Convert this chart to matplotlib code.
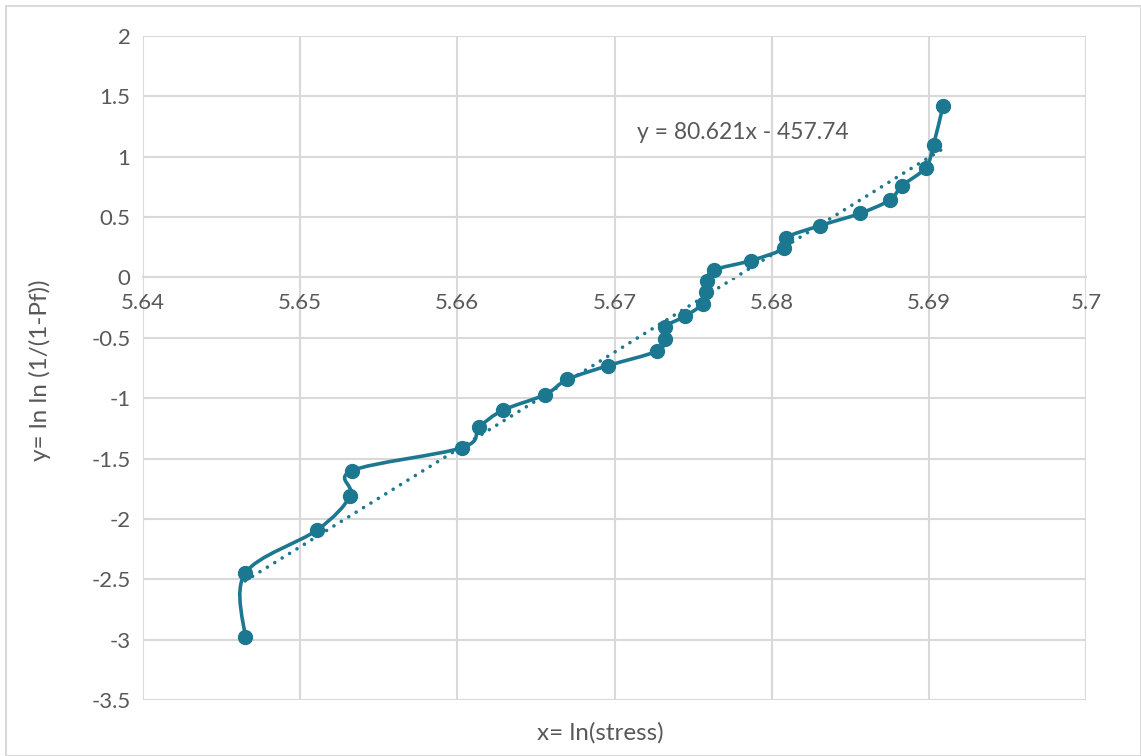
import matplotlib
matplotlib.use('Agg')
import matplotlib.pyplot as plt
import numpy as np
from matplotlib.path import Path
from matplotlib.patches import PathPatch, Rectangle

plt.rcParams['font.family'] = ['Lato', 'DejaVu Sans']

# 数据：x = ln(stress), y = ln ln (1/(1-Pf))
x_vals = [5.6465, 5.6465, 5.6511, 5.6532, 5.6533, 5.6603, 5.6614, 5.6629, 5.6656,
          5.6670, 5.6696, 5.6727, 5.6732, 5.6732, 5.6745, 5.6756, 5.6758, 5.6759,
          5.6763, 5.6787, 5.6808, 5.6809, 5.6831, 5.6856, 5.6875, 5.6883, 5.6898,
          5.6903, 5.6909]
y_vals = [-2.98, -2.45, -2.09, -1.81, -1.60, -1.41, -1.24, -1.10, -0.97,
          -0.845, -0.73, -0.61, -0.51, -0.41, -0.32, -0.22, -0.12, -0.03,
          0.06, 0.14, 0.24, 0.33, 0.43, 0.53, 0.64, 0.76, 0.91,
          1.10, 1.42]
slope = 80.621
intercept = -457.74
x_ticks = [5.64, 5.65, 5.66, 5.67, 5.68, 5.69, 5.7]
y_ticks = [2, 1.5, 1, 0.5, 0, -0.5, -1, -1.5, -2, -2.5, -3, -3.5]

color = '#1c7890'
grid_c = '#d9d9d9'
text_c = '#595959'

fig = plt.figure(figsize=(11.41, 7.56), dpi=100)
ax = fig.add_axes([143 / 1141, 1 - 700 / 756, (1086 - 143) / 1141, (700 - 36) / 756])

# 平滑折线（Excel 风格，Catmull-Rom -> Bezier）
pts = np.column_stack([x_vals, y_vals])
ext = np.vstack([pts[0], pts, pts[-1]])
verts = [pts[0]]
codes = [Path.MOVETO]
for i in range(len(pts) - 1):
    p0, p1, p2, p3 = ext[i], ext[i + 1], ext[i + 2], ext[i + 3]
    c1 = p1 + (p2 - p0) / 6
    c2 = p2 - (p3 - p1) / 6
    verts += [c1, c2, p2]
    codes += [Path.CURVE4] * 3
ax.add_patch(PathPatch(Path(verts, codes), fill=False, edgecolor=color, lw=2.6,
                       capstyle='round', joinstyle='round', zorder=3))
ax.plot(x_vals, y_vals, 'o', color=color, markersize=10, zorder=4)

# 趋势线
tx = np.array([min(x_vals), max(x_vals)])
ax.plot(tx, slope * tx + intercept, color=color, lw=2.6, linestyle=(0, (0.01, 2.4)),
        dash_capstyle='round', zorder=2)
ax.text(5.6714, 1.2, 'y = %.3fx - %.2f' % (slope, -intercept), fontsize=16.5,
        color=text_c, va='center', ha='left')

ax.set_xlim(5.64, 5.7)
ax.set_ylim(-3.5, 2)
ax.set_xticks(x_ticks)
ax.set_yticks(y_ticks)
ax.set_xticklabels(['%g' % v for v in x_ticks])
ax.set_yticklabels(['%g' % v for v in y_ticks])
ax.grid(True, color=grid_c, lw=1.5)
ax.set_axisbelow(True)
for s in ['top', 'right', 'left']:
    ax.spines[s].set_visible(False)
ax.spines['bottom'].set_position(('data', 0))
ax.spines['bottom'].set_color(grid_c)
ax.spines['bottom'].set_linewidth(1.5)
ax.tick_params(length=0, labelsize=16, labelcolor=text_c)
ax.tick_params(axis='x', pad=11)
ax.tick_params(axis='y', pad=9)

fig.text(600 / 1141, 1 - 733 / 756, 'x= ln(stress)', fontsize=17.5, color=text_c,
         ha='center', va='center')
fig.text(40 / 1141, 1 - 370 / 756, 'y= ln ln (1/(1-Pf))', fontsize=17.5, color=text_c,
         ha='center', va='center', rotation=90)

fig.add_artist(Rectangle((6 / 1141, 0), 1 - 6 / 1141, 1 - 6 / 756, transform=fig.transFigure,
                         fill=False, edgecolor='#d9d9d9', lw=1.5))

fig.savefig('out.png', dpi=100)
